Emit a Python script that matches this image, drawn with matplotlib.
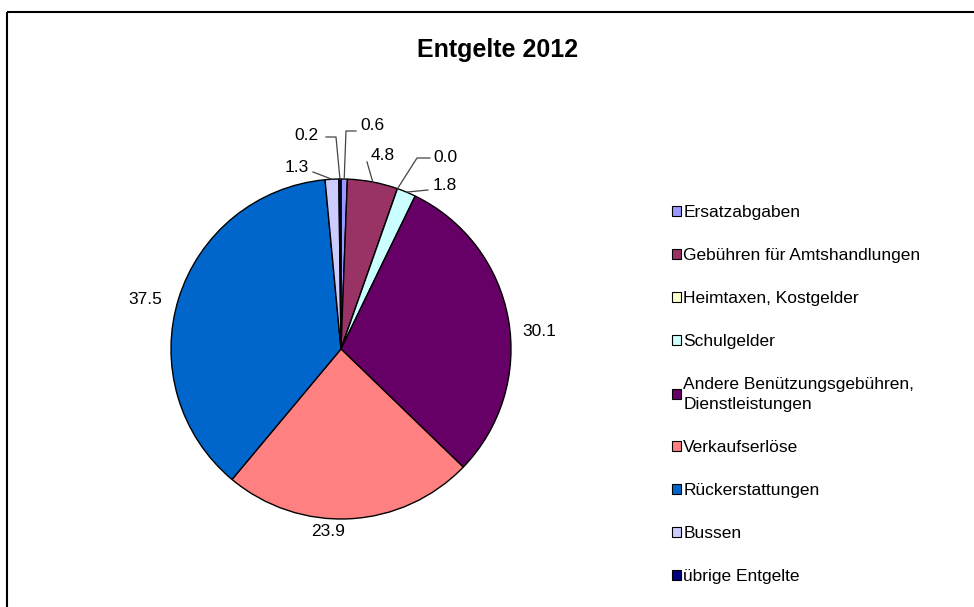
import numpy as np
import matplotlib.pyplot as plt
from matplotlib.patches import Patch

# Data
categories = ['Ersatzabgaben', 'Gebühren für Amtshandlungen', 'Heimtaxen, Kostgelder',
              'Schulgelder', 'Andere Benützungsgebühren,\nDienstleistungen', 'Verkaufserlöse',
              'Rückerstattungen', 'Bussen', 'übrige Entgelte']
values = [0.6, 4.8, 0.0, 1.8, 30.1, 23.9, 37.5, 1.3, 0.2]
value_labels = ['0.6', '4.8', '0.0', '1.8', '30.1', '23.9', '37.5', '1.3', '0.2']
colors = ['#9999FF', '#993366', '#FFFFCC', '#CCFFFF', '#660066',
          '#FF8080', '#0066CC', '#CCCCFF', '#000080']

W, H = 974, 607
font = 'Liberation Sans'

# label layout in pixels (y measured from top): text centre, optional elbow, line end near text
label_pos = [(372, 126), (383, 155), (445, 157), (445, 186), (539, 331),
             (328, 532), (145, 299), (297, 167), (306, 135)]
leader = [[(346, 131), (356, 131)], [(367, 162)], [(417, 158), (430, 158)], [(428, 190)],
          None, None, None, [(313, 172)], [(336, 137), (326, 137)]]

fig = plt.figure(figsize=(W / 100, H / 100), dpi=100)
ax = fig.add_axes([0, 0, 1, 1])

cx, cy, R = 341, H - 349, 170
wedges, _ = ax.pie(values, colors=colors, startangle=90, counterclock=False,
                   center=(cx, cy), radius=R,
                   wedgeprops=dict(edgecolor='black', linewidth=1.0))

ax.set_xlim(0, W)
ax.set_ylim(0, H)
ax.set_aspect('equal')
ax.axis('off')

for w, lab, pos, ld in zip(wedges, value_labels, label_pos, leader):
    ax.text(pos[0], H - pos[1], lab, ha='center', va='center', fontsize=12.5, family=font)
    if ld is not None:
        mid = np.deg2rad((w.theta1 + w.theta2) / 2)
        ex, ey = cx + R * np.cos(mid), cy + R * np.sin(mid)
        xs = [ex] + [p[0] for p in ld]
        ys = [ey] + [H - p[1] for p in ld]
        ax.plot(xs, ys, color='#444444', lw=0.9)

# title
ax.text(498, H - 50, 'Entgelte 2012', ha='center', va='center', fontsize=18,
        fontweight='bold', family=font)

# frame lines (cropped chart border)
ax.plot([7, 7], [H - 12, 0], color='black', lw=1.5, solid_capstyle='butt')
ax.plot([7, W], [H - 12, H - 12], color='black', lw=1.5, solid_capstyle='butt')

handles = [Patch(facecolor=c, edgecolor='black', linewidth=0.8) for c in colors]
leg = ax.legend(handles, categories, loc='upper left', bbox_to_anchor=(672 / W, 1 - 205 / H),
                frameon=False, prop={'family': font, 'size': 12.5},
                handlelength=0.5, handleheight=0.5, handletextpad=0.15,
                labelspacing=1.62, borderpad=0, borderaxespad=0)
for t in leg.get_texts():
    t.set_linespacing(1.35)

fig.savefig('out.png', dpi=100)
